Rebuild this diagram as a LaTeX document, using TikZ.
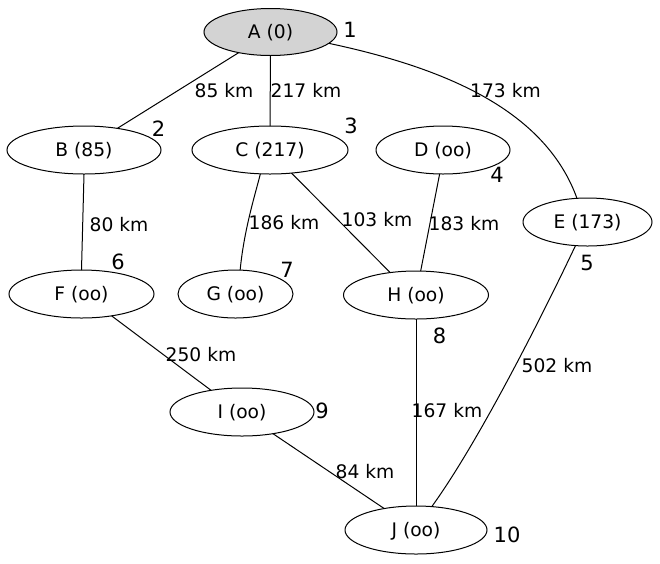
\documentclass[tikz,border=0pt]{standalone}
\usepackage{fontspec}
\setmainfont{DejaVu Sans}
\usetikzlibrary{shapes.geometric}
\definecolor{nodegray}{RGB}{211,211,211}
\begin{document}
\begin{tikzpicture}[x=1pt,y=-1pt,
 vert/.style={ellipse,draw,line width=1pt,inner sep=0pt,outer sep=0pt,minimum height=48pt,font=\fontsize{18.67}{22}\selectfont,text height=13.6pt,text depth=0pt},
 elab/.style={inner sep=0pt,font=\fontsize{18.67}{22}\selectfont,text height=14.2pt,text depth=0pt},
 num/.style={inner sep=0pt,font=\fontsize{21}{25}\selectfont,text height=15.3pt,text depth=0pt},
 link/.style={line width=1pt}]
\useasboundingbox (0,0) rectangle (660,563);
% vertices
\node[vert,fill=nodegray,minimum width=133pt,minimum height=47pt] (A) at (270.5,32) {A (0)};
\node[vert,minimum width=154pt] (B) at (84,150) {B (85)};
\node[vert,minimum width=156pt] (C) at (270,150) {C (217)};
\node[vert,minimum width=134pt] (D) at (443,150) {D (oo)};
\node[vert,minimum width=129pt] (E) at (587.5,222) {E (173)};
\node[vert,minimum width=145pt] (F) at (81.5,294) {F (oo)};
\node[vert,minimum width=115pt] (G) at (235.5,294) {G (oo)};
\node[vert,minimum width=145pt] (H) at (416,295) {H (oo)};
\node[vert,minimum width=144pt] (I) at (242,412) {I (oo)};
\node[vert,minimum width=142pt] (J) at (416,530) {J (oo)};
% edges
\draw[link] (A.213) -- (B.33);
\draw[link] (A.270) -- (C.90);
\draw[link] (A.349) .. controls (445,68) and (545,110) .. (E.114);
\draw[link] (B.270) -- (F.90);
\draw[link] (C.248) .. controls (255,195) and (244,230) .. (G.79);
\draw[link] (C.313) -- (H.139);
\draw[link] (D.262) -- (H.79);
\draw[link] (E.243) .. controls (545,310) and (480,440) .. (J.56);
\draw[link] (F.324) -- (I.145);
\draw[link] (H.270) -- (J.90);
\draw[link] (I.325) -- (J.146);
% edge labels
\node[elab] (lAB) at (224,90) {85 km};
\node[elab] (lAC) at (306,90) {217 km};
\node[elab] (lAE) at (505.5,90) {173 km};
\node[elab] (lBF) at (119,224) {80 km};
\node[elab] (lCG) at (284,222) {186 km};
\node[elab] (lCH) at (377,219) {103 km};
\node[elab] (lDH) at (464,223) {183 km};
\node[elab] (lFI) at (201,354) {250 km};
\node[elab] (lHJ) at (447,410) {167 km};
\node[elab] (lEJ) at (557,365) {502 km};
\node[elab] (lIJ) at (365,471) {84 km};
% order numbers
\node[num] (n1) at (350,29.5) {1};
\node[num] (n2) at (158.5,128.5) {2};
\node[num] (n3) at (351,126) {3};
\node[num] (n4) at (497,175) {4};
\node[num] (n5) at (587,263) {5};
\node[num] (n6) at (118,262) {6};
\node[num] (n7) at (287,270) {7};
\node[num] (n8) at (439.5,336) {8};
\node[num] (n9) at (322,411) {9};
\node[num] (n10) at (507,535) {10};
\end{tikzpicture}
\end{document}
